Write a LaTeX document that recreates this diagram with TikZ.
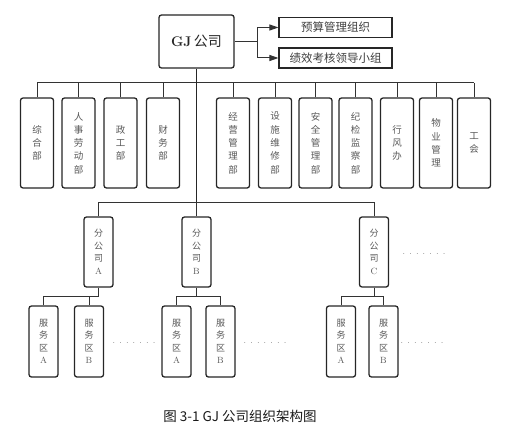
\documentclass[tikz,border=0pt]{standalone}
\usepackage{fontspec}
\newfontfamily\cjk{Noto Sans CJK SC}
\usetikzlibrary{arrows.meta}
\begin{document}
\begin{tikzpicture}[x=1pt,y=-1pt,
  box/.style={draw=black!85,line width=1.3pt,rounded corners=2.5pt,fill=white,inner sep=0pt},
  vbox/.style={box,minimum width=33pt,minimum height=90pt,align=center,text=black!65,font=\cjk\fontsize{9.5}{13.3}\selectfont},
  bbox/.style={box,minimum width=29pt,minimum height=70pt,align=center,text=black!65,font=\cjk\fontsize{9}{12.5}\selectfont},
  sbox/.style={box,minimum width=29pt,minimum height=71pt,align=center,text=black!65,font=\cjk\fontsize{9}{12.5}\selectfont},
  hbox/.style={box,line width=1.1pt,rounded corners=0pt,minimum width=113pt,minimum height=20pt,text=black!75,font=\cjk\fontsize{11.5}{13}\selectfont},
  conn/.style={draw=black!80,line width=1pt},
  trunk/.style={draw=black!85,line width=1.4pt},
  arr/.style={conn,-{Triangle[length=9pt,width=6pt]}},
  dots/.style={text=black!70,font=\fontsize{9}{9}\selectfont}]
\useasboundingbox (0,0) rectangle (505,433);
% top
\node[box,minimum width=75pt,minimum height=53pt,font=\fontsize{14}{16}\selectfont,text=black!85] (gj) at (196.5,41.5) {\textbf{GJ}\,{\cjk 公司}};
\node[hbox] (ys) at (335.5,27.5) {预算管理组织};
\node[hbox] (jx) at (335.5,58) {绩效考核领导小组};
\coordinate (sp) at (257,41.5);
\draw[conn] (gj.east) -- (sp);
\draw[arr] (sp) |- (ys.west);
\draw[arr] (sp) |- (jx.west);
% departments
\node[vbox] (d1) at (37,143) {综\\合\\部};
\node[vbox] (d2) at (78.5,143) {人\\事\\劳\\动\\部};
\node[vbox] (d3) at (120.5,143) {政\\工\\部};
\node[vbox] (d4) at (163,143) {财\\务\\部};
\node[vbox] (d5) at (233,143) {经\\营\\管\\理\\部};
\node[vbox] (d6) at (275,143) {设\\施\\维\\修\\部};
\node[vbox] (d7) at (315.5,143) {安\\全\\管\\理\\部};
\node[vbox] (d8) at (355.5,143) {纪\\检\\监\\察\\部};
\node[vbox] (d9) at (397,143) {行\\风\\办};
\node[vbox] (d10) at (436,143) {物\\业\\管\\理};
\node[vbox] (d11) at (474,143) {工\\会};
\coordinate (bl) at (37,83);
\coordinate (br) at (474,83);
\draw[conn] (bl) -- (br);
\foreach \d in {d1,d2,d3,d4,d5,d6,d7,d8,d9,d10,d11}
  \draw[conn] (\d.north) -- (\d.north |- bl);
% branches
\coordinate (tb) at (196.5,202);
\draw[trunk] (gj.south) -- (tb);
\node[bbox] (ba) at (98.5,252) {分\\公\\司\\{\fontfamily{lmr}\selectfont A}};
\node[bbox] (bb) at (196.5,252) {分\\公\\司\\{\fontfamily{lmr}\selectfont B}};
\node[bbox] (bc) at (374,252) {分\\公\\司\\{\fontfamily{lmr}\selectfont C}};
\draw[conn] (ba.north) |- (bc.north |- tb) -- (bc.north);
\draw[conn] (bb.north) -- (bb.north |- tb);
\node[dots] (dc) at (424,254) {. . . . . . .};
% service areas
\node[sbox] (s1a) at (43.5,341.5) {服\\务\\区\\{\fontfamily{lmr}\selectfont A}};
\node[sbox] (s1b) at (89,341.5) {服\\务\\区\\{\fontfamily{lmr}\selectfont B}};
\node[sbox] (s2a) at (176.5,341.5) {服\\务\\区\\{\fontfamily{lmr}\selectfont A}};
\node[sbox] (s2b) at (220.5,341.5) {服\\务\\区\\{\fontfamily{lmr}\selectfont B}};
\node[sbox] (s3a) at (341,341.5) {服\\务\\区\\{\fontfamily{lmr}\selectfont A}};
\node[sbox] (s3b) at (383.5,341.5) {服\\务\\区\\{\fontfamily{lmr}\selectfont B}};
\coordinate (j1) at (98.5,296);
\coordinate (j2) at (196.5,296);
\coordinate (j3) at (374,296);
\draw[conn] (ba.south) -- (j1);
\draw[conn] (bb.south) -- (j2);
\draw[conn] (bc.south) -- (j3);
\draw[conn] (s1a.north) |- (j1);
\draw[conn] (s1b.north) -- (s1b.north |- j1);
\draw[conn] (s2a.north) |- (s2b.north |- j2) -- (s2b.north);
\draw[conn] (s3a.north) |- (s3b.north |- j3) -- (s3b.north);
\node[dots] (e1) at (134,343) {. . . . . . .};
\node[dots] (e2) at (265,343) {. . . . . . .};
\node[dots] (e3) at (422,343) {. . . . . . .};
% caption
\node[font=\cjk\fontsize{13.5}{15}\selectfont,text=black!90] (cap) at (240,416) {图 3-1 GJ 公司组织架构图};
\end{tikzpicture}
\end{document}
